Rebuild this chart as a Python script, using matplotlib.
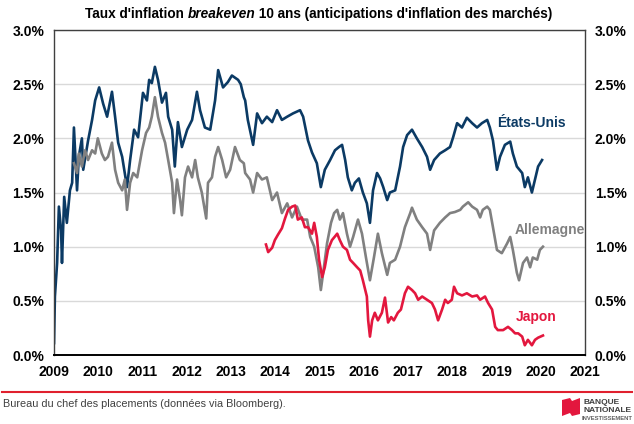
import matplotlib
matplotlib.use("Agg")
import matplotlib.pyplot as plt
from matplotlib.patches import Polygon
from matplotlib.lines import Line2D
from matplotlib.ticker import FuncFormatter

plt.rcParams["font.family"] = ["Liberation Sans", "DejaVu Sans"]

# --- data (decimal years / %) ---
us_years = [2009.00, 2009.02, 2009.07, 2009.11, 2009.16, 2009.18, 2009.23, 2009.29, 2009.36, 2009.41,
            2009.45, 2009.52, 2009.56, 2009.63, 2009.66, 2009.77, 2009.86, 2009.93, 2010.02, 2010.11,
            2010.20, 2010.31, 2010.38, 2010.45, 2010.54, 2010.65, 2010.72, 2010.81, 2010.90, 2011.01,
            2011.10, 2011.15, 2011.21, 2011.28, 2011.35, 2011.44, 2011.53, 2011.58, 2011.67, 2011.73,
            2011.80, 2011.89, 2012.01, 2012.12, 2012.23, 2012.30, 2012.41, 2012.53, 2012.64, 2012.71,
            2012.82, 2012.93, 2013.02, 2013.16, 2013.22, 2013.29, 2013.32, 2013.38, 2013.50, 2013.59,
            2013.70, 2013.81, 2013.93, 2014.04, 2014.15, 2014.27, 2014.40, 2014.56, 2014.63, 2014.74,
            2014.83, 2014.94, 2015.03, 2015.12, 2015.24, 2015.35, 2015.44, 2015.51, 2015.58, 2015.64,
            2015.73, 2015.80, 2015.89, 2015.98, 2016.07, 2016.14, 2016.21, 2016.30, 2016.37, 2016.44,
            2016.53, 2016.59, 2016.71, 2016.82, 2016.89, 2016.98, 2017.09, 2017.20, 2017.32, 2017.43,
            2017.50, 2017.59, 2017.72, 2017.84, 2017.95, 2018.02, 2018.11, 2018.22, 2018.33, 2018.45,
            2018.56, 2018.67, 2018.79, 2018.85, 2018.92, 2019.01, 2019.08, 2019.19, 2019.31, 2019.37,
            2019.46, 2019.58, 2019.64, 2019.71, 2019.80, 2019.87, 2019.94, 2020.03]
us_vals = [0.11, 0.54, 0.85, 1.37, 1.15, 0.85, 1.46, 1.22, 1.52, 1.59,
           2.10, 1.52, 1.83, 2.00, 1.71, 1.98, 2.17, 2.35, 2.47, 2.32,
           2.20, 2.43, 2.20, 1.96, 1.83, 1.55, 1.80, 2.08, 2.01, 2.42,
           2.35, 2.54, 2.51, 2.66, 2.54, 2.33, 2.42, 2.20, 2.08, 1.74,
           2.15, 1.92, 2.08, 2.17, 2.43, 2.26, 2.10, 2.08, 2.35, 2.63,
           2.47, 2.52, 2.58, 2.54, 2.50, 2.38, 2.35, 2.17, 1.94, 2.23,
           2.14, 2.20, 2.15, 2.26, 2.17, 2.20, 2.23, 2.26, 2.20, 1.98,
           1.87, 1.77, 1.55, 1.71, 1.80, 1.89, 1.92, 1.94, 1.80, 1.64,
           1.52, 1.59, 1.63, 1.50, 1.40, 1.22, 1.52, 1.68, 1.63, 1.55,
           1.43, 1.50, 1.52, 1.74, 1.92, 2.03, 2.08, 2.00, 1.92, 1.83,
           1.71, 1.80, 1.86, 1.89, 1.92, 2.01, 2.14, 2.10, 2.19, 2.14,
           2.10, 2.14, 2.17, 2.10, 1.98, 1.71, 1.83, 1.94, 1.97, 1.86,
           1.74, 1.68, 1.55, 1.64, 1.50, 1.62, 1.74, 1.80]

de_years = [2009.45, 2009.52, 2009.56, 2009.63, 2009.70, 2009.77, 2009.86, 2009.93, 2009.99, 2010.08,
            2010.15, 2010.22, 2010.31, 2010.38, 2010.45, 2010.54, 2010.60, 2010.65, 2010.72, 2010.79,
            2010.88, 2010.99, 2011.08, 2011.15, 2011.21, 2011.28, 2011.35, 2011.44, 2011.51, 2011.58,
            2011.67, 2011.71, 2011.78, 2011.85, 2011.89, 2011.96, 2012.03, 2012.12, 2012.19, 2012.25,
            2012.34, 2012.44, 2012.48, 2012.57, 2012.64, 2012.71, 2012.80, 2012.89, 2012.98, 2013.09,
            2013.20, 2013.29, 2013.32, 2013.43, 2013.50, 2013.59, 2013.70, 2013.81, 2013.93, 2014.04,
            2014.15, 2014.27, 2014.38, 2014.49, 2014.60, 2014.72, 2014.79, 2014.88, 2014.97, 2015.03,
            2015.10, 2015.17, 2015.26, 2015.33, 2015.40, 2015.46, 2015.53, 2015.62, 2015.69, 2015.76,
            2015.87, 2015.96, 2016.05, 2016.14, 2016.23, 2016.32, 2016.41, 2016.53, 2016.59, 2016.71,
            2016.82, 2016.93, 2017.05, 2017.09, 2017.20, 2017.32, 2017.43, 2017.50, 2017.59, 2017.72,
            2017.84, 2017.95, 2018.06, 2018.18, 2018.24, 2018.36, 2018.45, 2018.56, 2018.63, 2018.69,
            2018.79, 2018.85, 2018.92, 2019.01, 2019.12, 2019.24, 2019.31, 2019.37, 2019.46, 2019.51,
            2019.60, 2019.69, 2019.76, 2019.82, 2019.92, 2019.98, 2020.05]
de_vals = [1.77, 1.68, 1.86, 1.74, 1.89, 1.80, 1.89, 1.86, 2.00, 1.86,
           1.80, 1.83, 1.96, 1.71, 1.59, 1.52, 1.62, 1.34, 1.59, 1.68,
           1.64, 1.89, 2.05, 2.10, 2.20, 2.38, 2.20, 2.05, 1.96, 1.80,
           1.59, 1.31, 1.62, 1.43, 1.29, 1.64, 1.74, 1.64, 1.80, 1.64,
           1.50, 1.26, 1.59, 1.64, 1.83, 1.92, 1.80, 1.64, 1.71, 1.92,
           1.80, 1.77, 1.68, 1.62, 1.50, 1.68, 1.62, 1.64, 1.43, 1.50,
           1.31, 1.40, 1.27, 1.37, 1.25, 1.25, 1.09, 1.00, 0.81, 0.60,
           0.81, 1.03, 1.22, 1.31, 1.34, 1.25, 1.31, 1.12, 1.00, 1.09,
           1.25, 1.12, 0.90, 0.69, 0.90, 1.12, 0.94, 0.74, 0.85, 0.88,
           1.00, 1.18, 1.31, 1.36, 1.25, 1.18, 1.12, 0.97, 1.15, 1.22,
           1.27, 1.31, 1.32, 1.34, 1.37, 1.41, 1.37, 1.34, 1.27, 1.34,
           1.37, 1.34, 1.18, 0.97, 0.94, 1.03, 1.09, 0.97, 0.76, 0.69,
           0.85, 0.90, 0.81, 0.90, 0.88, 0.97, 1.00]

jp_years = [2013.79, 2013.84, 2013.93, 2013.99, 2014.06, 2014.15, 2014.22, 2014.29, 2014.38, 2014.45,
            2014.51, 2014.60, 2014.67, 2014.74, 2014.83, 2014.88, 2014.94, 2014.99, 2015.06, 2015.12,
            2015.19, 2015.28, 2015.40, 2015.46, 2015.53, 2015.62, 2015.69, 2015.76, 2015.85, 2015.92,
            2015.98, 2016.07, 2016.10, 2016.14, 2016.19, 2016.25, 2016.32, 2016.41, 2016.48, 2016.55,
            2016.62, 2016.68, 2016.77, 2016.84, 2016.93, 2017.00, 2017.09, 2017.16, 2017.23, 2017.32,
            2017.43, 2017.54, 2017.61, 2017.68, 2017.77, 2017.84, 2017.90, 2017.99, 2018.04, 2018.11,
            2018.22, 2018.33, 2018.45, 2018.56, 2018.63, 2018.74, 2018.81, 2018.90, 2018.97, 2019.03,
            2019.15, 2019.26, 2019.35, 2019.42, 2019.49, 2019.58, 2019.64, 2019.71, 2019.80, 2019.87,
            2019.94, 2020.05]
jp_vals = [1.02, 0.95, 0.99, 1.06, 1.11, 1.17, 1.26, 1.34, 1.37, 1.38,
           1.25, 1.27, 1.18, 1.18, 1.12, 1.22, 1.09, 0.88, 0.72, 0.81,
           0.97, 1.06, 1.12, 1.06, 1.00, 0.97, 0.88, 0.85, 0.81, 0.78,
           0.69, 0.54, 0.32, 0.17, 0.32, 0.39, 0.32, 0.39, 0.53, 0.30,
           0.35, 0.32, 0.39, 0.42, 0.57, 0.63, 0.60, 0.57, 0.51, 0.54,
           0.51, 0.48, 0.42, 0.32, 0.42, 0.51, 0.48, 0.51, 0.63, 0.57,
           0.55, 0.57, 0.54, 0.55, 0.51, 0.54, 0.48, 0.42, 0.26, 0.23,
           0.23, 0.26, 0.23, 0.20, 0.20, 0.17, 0.09, 0.14, 0.09, 0.14,
           0.16, 0.18]

year_ticks = list(range(2009, 2022))
pct_ticks = [0.0, 0.5, 1.0, 1.5, 2.0, 2.5, 3.0]

navy = "#0b3a64"
grey = "#808080"
red = "#e3173e"

fig = plt.figure(figsize=(6.34, 4.24), dpi=100)
ax = fig.add_axes([0.0852, 0.1627, 0.8375, 0.7665])

ax.plot(us_years, us_vals, color=navy, lw=1.9)
ax.plot(de_years, de_vals, color=grey, lw=1.9)
ax.plot(jp_years, jp_vals, color=red, lw=1.9)

ax.set_xlim(2009, 2021)
ax.set_ylim(0, 3.0)
ax.set_xticks(year_ticks)
ax.set_yticks(pct_ticks)
ax.yaxis.set_major_formatter(FuncFormatter(lambda v, p: "%.1f%%" % v))
ax.grid(axis="y", color="#d9d9d9", lw=1)
ax.set_axisbelow(True)
ax.tick_params(length=0, labelsize=10, labelright=True, pad=7)
for lab in ax.get_xticklabels() + ax.get_yticklabels():
    lab.set_fontweight("bold")
for t in ax.yaxis.get_major_ticks():
    t.label2.set_fontweight("bold")
    t.label2.set_fontsize(10)
for side in ["top", "left", "right"]:
    ax.spines[side].set_color("#404040")
    ax.spines[side].set_linewidth(1)
ax.spines["bottom"].set_color("black")
ax.spines["bottom"].set_linewidth(1.4)

ax.text(2019.80, 2.14, "États-Unis", color=navy, fontsize=10, fontweight="bold", ha="center", va="center")
ax.text(2020.21, 1.15, "Allemagne", color=grey, fontsize=10, fontweight="bold", ha="center", va="center")
ax.text(2019.89, 0.35, "Japon", color=red, fontsize=10, fontweight="bold", ha="center", va="center")

# title: bold with italic word
t1 = fig.text(0.134, 0.967, "Taux d'inflation ", fontsize=9.8, fontweight="bold", va="center")
t2 = ax.annotate("breakeven", xy=(1, 0), xycoords=t1, va="bottom", ha="left",
                 fontsize=9.8, fontweight="bold", style="italic", annotation_clip=False)
t3 = ax.annotate(" 10 ans (anticipations d'inflation des marchés)", xy=(1, 0), xycoords=t2,
                 va="bottom", ha="left", fontsize=9.8, fontweight="bold", annotation_clip=False)

# footer
fig.add_artist(Line2D([0.003, 0.997], [1 - 392 / 424, 1 - 392 / 424], transform=fig.transFigure,
                      color="#e0202e", lw=1.5))
fig.text(0.005, 1 - 404 / 424, "Bureau du chef des placements (données via Bloomberg).",
         fontsize=7.8, color="#404040", va="center",
         family=["Liberation Sans Narrow", "Liberation Sans"])

W, H = 634.0, 424.0
logo = [(562, 400), (570, 398), (572, 401), (580, 398), (580, 414), (572, 416),
        (570, 413), (562, 416)]
fig.add_artist(Polygon([(x / W, 1 - y / H) for x, y in logo], closed=True,
                       transform=fig.transFigure, color="#e3173e", lw=0))
fig.text(583 / W, 1 - 403 / H, "BANQUE", fontsize=6, fontweight="bold", color="#404040",
         va="center", family=["Liberation Sans Narrow", "Liberation Sans"])
fig.text(583 / W, 1 - 411 / H, "NATIONALE", fontsize=6, fontweight="bold", color="#404040",
         va="center", family=["Liberation Sans Narrow", "Liberation Sans"])
fig.text(582 / W, 1 - 419 / H, "INVESTISSEMENT", fontsize=4.2, fontweight="bold", color="#606060",
         va="center", family=["Liberation Sans Narrow", "Liberation Sans"])

fig.savefig("out.png", dpi=100)
